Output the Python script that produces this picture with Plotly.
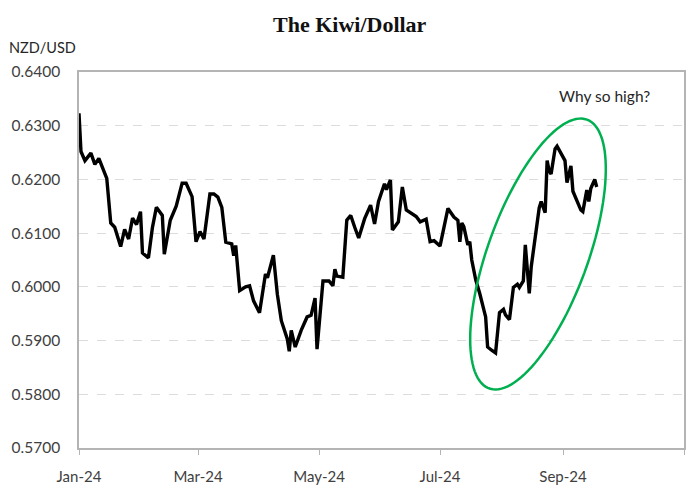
import numpy as np
import plotly.graph_objects as go

dates = [
    "2024-01-01", "2024-01-02", "2024-01-04", "2024-01-07", "2024-01-09", "2024-01-11", "2024-01-15",
    "2024-01-17", "2024-01-19", "2024-01-22", "2024-01-24", "2024-01-26", "2024-01-28", "2024-01-30",
    "2024-02-01", "2024-02-02", "2024-02-05", "2024-02-07", "2024-02-09", "2024-02-12", "2024-02-13",
    "2024-02-16", "2024-02-19", "2024-02-22", "2024-02-24", "2024-02-27", "2024-02-29", "2024-03-02",
    "2024-03-04", "2024-03-07", "2024-03-09", "2024-03-11", "2024-03-13", "2024-03-15", "2024-03-18",
    "2024-03-19", "2024-03-20", "2024-03-22", "2024-03-25", "2024-03-27", "2024-03-29", "2024-04-01",
    "2024-04-04", "2024-04-05", "2024-04-08", "2024-04-10", "2024-04-12", "2024-04-15", "2024-04-16",
    "2024-04-17", "2024-04-19", "2024-04-22", "2024-04-25", "2024-04-27", "2024-04-29", "2024-04-30",
    "2024-05-03", "2024-05-06", "2024-05-08", "2024-05-09", "2024-05-10", "2024-05-13", "2024-05-15",
    "2024-05-17", "2024-05-19", "2024-05-21", "2024-05-24", "2024-05-27", "2024-05-29", "2024-05-31",
    "2024-06-03", "2024-06-04", "2024-06-06", "2024-06-07", "2024-06-10", "2024-06-12", "2024-06-14",
    "2024-06-16", "2024-06-19", "2024-06-21", "2024-06-24", "2024-06-26", "2024-06-28", "2024-07-01",
    "2024-07-05", "2024-07-08", "2024-07-10", "2024-07-11", "2024-07-12", "2024-07-13", "2024-07-15",
    "2024-07-16", "2024-07-17", "2024-07-19", "2024-07-21", "2024-07-24", "2024-07-25", "2024-07-27",
    "2024-07-29", "2024-07-31", "2024-08-02", "2024-08-03", "2024-08-05", "2024-08-07", "2024-08-09",
    "2024-08-10", "2024-08-12", "2024-08-13", "2024-08-14", "2024-08-15", "2024-08-16", "2024-08-18",
    "2024-08-20", "2024-08-21", "2024-08-23", "2024-08-24", "2024-08-25", "2024-08-26", "2024-08-28",
    "2024-08-29", "2024-08-31", "2024-09-02", "2024-09-03", "2024-09-05", "2024-09-06", "2024-09-08",
    "2024-09-10", "2024-09-11", "2024-09-13", "2024-09-14", "2024-09-15", "2024-09-17", "2024-09-18",
]
nzd_usd = [
    0.6323, 0.6252, 0.6235, 0.6249, 0.6228, 0.6239, 0.6202,
    0.6119, 0.6111, 0.6075, 0.6107, 0.6089, 0.6128, 0.6116,
    0.6140, 0.6063, 0.6054, 0.6110, 0.6148, 0.6133, 0.6061,
    0.6124, 0.6150, 0.6193, 0.6193, 0.6168, 0.6084, 0.6103,
    0.6089, 0.6173, 0.6173, 0.6167, 0.6148, 0.6083, 0.6080,
    0.6058, 0.6077, 0.5993, 0.6000, 0.6002, 0.5974, 0.5952,
    0.6024, 0.6017, 0.6059, 0.5986, 0.5937, 0.5903, 0.5880,
    0.5919, 0.5888, 0.5919, 0.5944, 0.5947, 0.5979, 0.5884,
    0.6011, 0.6011, 0.6002, 0.6033, 0.6020, 0.6018, 0.6124,
    0.6133, 0.6111, 0.6091, 0.6127, 0.6152, 0.6117, 0.6159,
    0.6192, 0.6181, 0.6199, 0.6106, 0.6121, 0.6186, 0.6143,
    0.6138, 0.6131, 0.6121, 0.6126, 0.6084, 0.6086, 0.6076,
    0.6146, 0.6130, 0.6124, 0.6084, 0.6119, 0.6112, 0.6078,
    0.6084, 0.6050, 0.6013, 0.5988, 0.5944, 0.5888, 0.5882,
    0.5877, 0.5952, 0.5958, 0.5948, 0.5939, 0.5999, 0.6005,
    0.5999, 0.6011, 0.6078, 0.6031, 0.5988, 0.6038, 0.6088,
    0.6147, 0.6159, 0.6138, 0.6235, 0.6216, 0.6210, 0.6257,
    0.6262, 0.6249, 0.6235, 0.6194, 0.6225, 0.6178, 0.6159,
    0.6143, 0.6140, 0.6180, 0.6159, 0.6183, 0.6200, 0.6186,
]
x_tickvals = ["2024-01-01", "2024-03-01", "2024-05-01", "2024-07-01", "2024-09-01", "2024-11-01"]
x_ticktext = ["Jan-24", "Mar-24", "May-24", "Jul-24", "Sep-24", ""]
y_tickvals = [0.57, 0.58, 0.59, 0.60, 0.61, 0.62, 0.63, 0.64]
y_ticktext = ["0.5700", "0.5800", "0.5900", "0.6000", "0.6100", "0.6200", "0.6300", "0.6400"]

W, H = 700, 491
L, R, T, B = 79, 16, 72, 43
pw, ph = W - L - R, H - T - B


def px_x(p):
    return (p - L) / pw


def px_y(p):
    return (H - B - p) / ph


fig = go.Figure()
fig.add_trace(go.Scatter(x=dates, y=nzd_usd, mode="lines",
                         line=dict(color="black", width=3.4), showlegend=False))

# highlight ellipse (pixel geometry -> paper coords)
cx, cy, a, b, ang = 538, 254, 143, 50, np.deg2rad(20)
t = np.linspace(0, 2 * np.pi, 120)
ux, uy = np.sin(ang), -np.cos(ang)
vx, vy = np.cos(ang), np.sin(ang)
pxs = cx + a * np.cos(t) * ux + b * np.sin(t) * vx
pys = cy + a * np.cos(t) * uy + b * np.sin(t) * vy
path = "M " + " L ".join(f"{px_x(x):.4f},{px_y(y):.4f}" for x, y in zip(pxs, pys)) + " Z"
fig.add_shape(type="path", path=path, xref="paper", yref="paper",
              line=dict(color="#00b050", width=2.5))

fig.update_layout(
    width=W, height=H,
    margin=dict(l=L, r=R, t=T, b=B, autoexpand=False),
    paper_bgcolor="white", plot_bgcolor="white",
    font=dict(family="Lato, Open Sans, sans-serif", color="#404040", size=15),
    xaxis=dict(type="date", range=["2024-01-01", "2024-11-01"],
               tickvals=x_tickvals, ticktext=x_ticktext, automargin=False,
               showgrid=False, showline=True, linecolor="#b4b4b4", linewidth=1.5,
               mirror=True, ticks="outside", ticklen=5, tickcolor="#b4b4b4",
               ticklabelstandoff=9,
               tickfont=dict(size=15, color="#404040"), zeroline=False),
    yaxis=dict(range=[0.57, 0.64], tickvals=y_tickvals, ticktext=y_ticktext,
               automargin=False,
               showgrid=True, gridcolor="#dcdcdc", griddash="dash", gridwidth=1,
               showline=True, linecolor="#b4b4b4", linewidth=1.5, mirror=True,
               ticks="", ticklabelstandoff=14,
               tickfont=dict(size=15.5, color="#404040"), zeroline=False),
    annotations=[
        dict(text="<b>The Kiwi/Dollar</b>", x=px_x(350), y=px_y(24), xref="paper", yref="paper",
             showarrow=False, font=dict(family="Liberation Serif, serif", size=22, color="#111111"),
             xanchor="center", yanchor="middle"),
        dict(text="NZD/USD", x=px_x(7), y=px_y(47), xref="paper", yref="paper",
             showarrow=False, font=dict(size=14.5, color="#262626"),
             xanchor="left", yanchor="middle"),
        dict(text="Why so high?", x=px_x(604), y=px_y(96), xref="paper", yref="paper",
             showarrow=False, font=dict(size=15.5, color="#262626"),
             xanchor="center", yanchor="middle"),
    ],
)

fig.write_html("out.html")
